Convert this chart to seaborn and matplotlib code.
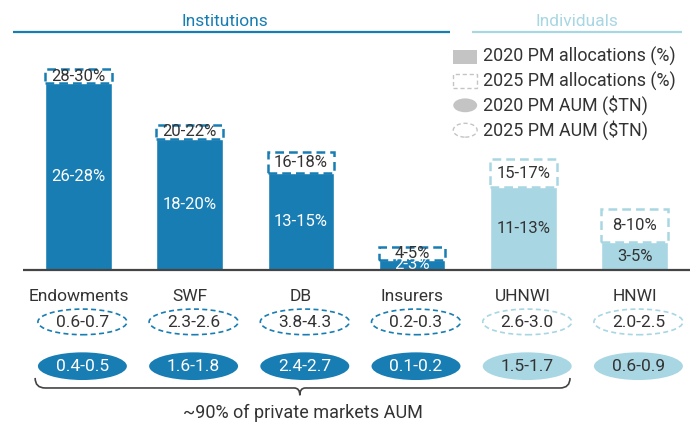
import numpy as np
import matplotlib
matplotlib.use('Agg')
import matplotlib.pyplot as plt
import seaborn as sns
from matplotlib.patches import Ellipse, Rectangle
from matplotlib.path import Path
from matplotlib.patches import PathPatch

# Dados
categorias = ['Endowments', 'SWF', 'DB', 'Insurers', 'UHNWI', 'HNWI']
grupo = ['inst', 'inst', 'inst', 'inst', 'ind', 'ind']
alloc_2020 = [27, 19, 14, 1.5, 12, 4]
alloc_2025 = [29, 21, 17, 3.3, 16, 8.8]
rotulo_2020 = ['26-28%', '18-20%', '13-15%', '2-3%', '11-13%', '3-5%']
rotulo_2025 = ['28-30%', '20-22%', '16-18%', '4-5%', '15-17%', '8-10%']
aum_2020 = ['0.4-0.5', '1.6-1.8', '2.4-2.7', '0.1-0.2', '1.5-1.7', '0.6-0.9']
aum_2025 = ['0.6-0.7', '2.3-2.6', '3.8-4.3', '0.2-0.3', '2.6-3.0', '2.0-2.5']
legenda = ['2020 PM allocations (%)', '2025 PM allocations (%)',
           '2020 PM AUM ($TN)', '2025 PM AUM ($TN)']

AZUL = '#187db3'
AZUL_CLARO = '#a8d6e3'
CINZA_TXT = '#333333'
CINZA_LEG = '#c4c4c4'

sns.set_style('white')
plt.rcParams['font.family'] = ['Roboto', 'DejaVu Sans']

cores = [AZUL if g == 'inst' else AZUL_CLARO for g in grupo]
cor_txt = ['white' if g == 'inst' else CINZA_TXT for g in grupo]

fig = plt.figure(figsize=(6.99, 4.25), dpi=100)
ax = fig.add_axes([0, 0, 1, 1])

# Barras 2020
sns.barplot(x=categorias, y=alloc_2020, hue=categorias, palette=cores,
            width=0.6, legend=False, ax=ax, saturation=1)
ax.set_xlim(-0.706, 5.580)
ax.set_ylim(-22.40, 39.02)
ax.axis('off')

x = np.arange(len(categorias))
a20 = np.array(alloc_2020)
a25 = np.array(alloc_2025)

# Barras 2025 tracejadas
for i in range(len(categorias)):
    ax.bar(x[i], a25[i] - a20[i], bottom=a20[i], width=0.6, fill=False,
           edgecolor=cores[i], linestyle=(0, (3.5, 2)), linewidth=1.8, zorder=3)
    ax.text(x[i], a20[i] / 2, rotulo_2020[i], ha='center', va='center',
            fontsize=12, color=cor_txt[i], zorder=4)
    ax.text(x[i], (a20[i] + a25[i]) / 2, rotulo_2025[i], ha='center', va='center',
            fontsize=12, color=CINZA_TXT, zorder=4)

# Tampa o texto abaixo da linha base
ax.add_patch(Rectangle((-0.706, -4.0), 6.3, 4.0, facecolor='white', edgecolor='none', zorder=5))
ax.hlines(0, -0.5, 5.5, color='#444444', linewidth=1.6, zorder=6)

# Categorias e elipses de AUM
for i in range(len(categorias)):
    ax.text(x[i], -3.8, categorias[i], ha='center', va='center', fontsize=12.5,
            color=CINZA_TXT, zorder=6)
    ax.add_patch(Ellipse((x[i] + 0.035, -7.5), 0.8, 3.7, facecolor='none',
                         edgecolor=cores[i], linestyle=(0, (3, 2)), linewidth=1.2, zorder=6))
    ax.text(x[i] + 0.035, -7.6, aum_2025[i], ha='center', va='center', fontsize=12.5,
            color=CINZA_TXT, zorder=7)
    ax.add_patch(Ellipse((x[i] + 0.035, -13.9), 0.8, 4.0, facecolor=cores[i],
                         edgecolor='none', zorder=6))
    ax.text(x[i] + 0.035, -14.0, aum_2020[i], ha='center', va='center', fontsize=12.5,
            color=cor_txt[i], zorder=7)

# Cabecalhos
ax.text(1.32, 35.9, 'Institutions', ha='center', va='center', fontsize=12.5, color=AZUL)
ax.hlines(34.4, -0.59, 3.34, color=AZUL, linewidth=1.6)
ax.text(4.48, 35.9, 'Individuals', ha='center', va='center', fontsize=12.5, color=AZUL_CLARO)
ax.hlines(34.4, 3.54, 5.43, color=AZUL_CLARO, linewidth=1.6)

# Legenda manual
lx0, lx1, tx = 3.37, 3.585, 3.64
ly = [30.8, 27.3, 23.8, 20.2]
ax.add_patch(Rectangle((lx0, ly[0] - 1.05), lx1 - lx0, 2.1, facecolor=CINZA_LEG, edgecolor='none'))
ax.add_patch(Rectangle((lx0, ly[1] - 1.05), lx1 - lx0, 2.1, facecolor='none', edgecolor=CINZA_LEG,
                       linestyle=(0, (3, 2)), linewidth=1))
ax.add_patch(Ellipse(((lx0 + lx1) / 2, ly[2]), lx1 - lx0, 2.0, facecolor=CINZA_LEG, edgecolor='none'))
ax.add_patch(Ellipse(((lx0 + lx1) / 2, ly[3]), lx1 - lx0, 2.0, facecolor='none', edgecolor=CINZA_LEG,
                     linestyle=(0, (3, 2)), linewidth=1))
for yy, t in zip(ly, legenda):
    ax.text(tx, yy, t, ha='left', va='center', fontsize=12.9, color=CINZA_TXT)

# Chave inferior
xl, xr, xm = -0.39, 4.42, 1.99
yb, yt, ytip = -17.05, -15.6, -18.1
verts = [(xl, yt), (xl, yb), (xl + 0.09, yb),
         (xm - 0.05, yb), (xm, yb), (xm, ytip), (xm, yb), (xm + 0.05, yb),
         (xr - 0.09, yb), (xr, yb), (xr, yt)]
codes = [Path.MOVETO, Path.CURVE3, Path.CURVE3,
         Path.LINETO, Path.CURVE3, Path.CURVE3, Path.CURVE3, Path.CURVE3,
         Path.LINETO, Path.CURVE3, Path.CURVE3]
ax.add_patch(PathPatch(Path(verts, codes), facecolor='none', edgecolor='#444444', linewidth=1.2))
ax.text(2.02, -20.6, '~90% of private markets AUM', ha='center', va='center',
        fontsize=13, color=CINZA_TXT)

fig.savefig('out.png', dpi=100)
